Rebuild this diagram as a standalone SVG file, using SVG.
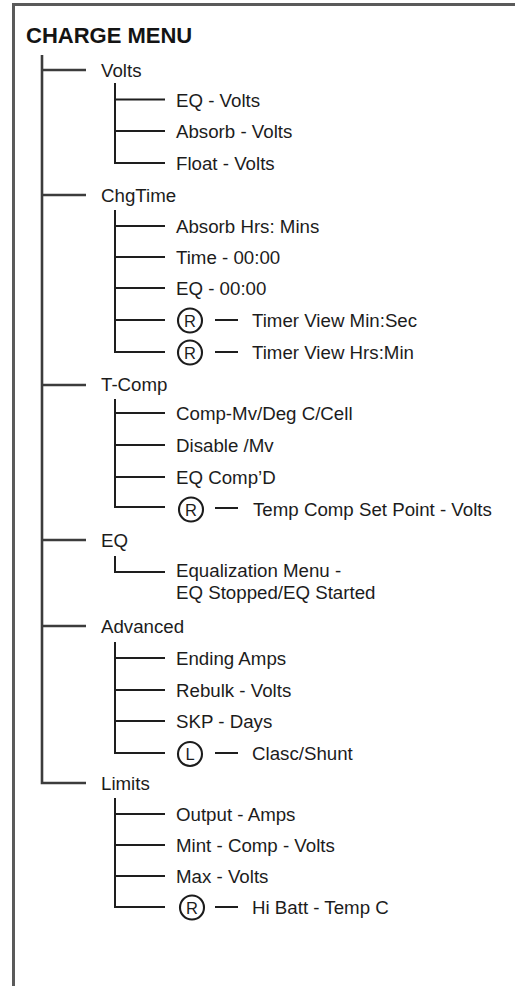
<svg xmlns="http://www.w3.org/2000/svg" width="515" height="986" viewBox="0 0 515 986">
<style>
.frame{stroke:#5a5a5a;stroke-width:3;fill:none}
.trunk{stroke:#3c3c3c;stroke-width:2.6;fill:none}
.ln{stroke:#1e1e1e;stroke-width:2;fill:none}
.lbl{font-family:"Liberation Sans",Arial,sans-serif;font-size:18.7px;fill:#1c1c1c}
.ttl{font-family:"Liberation Sans",Arial,sans-serif;font-size:22px;font-weight:bold;fill:#141414}
.bc{stroke:#1c1c1c;stroke-width:2.1;fill:none}
.bt{font-family:"Liberation Sans",Arial,sans-serif;font-size:16.5px;fill:#1c1c1c;text-anchor:middle}
</style>
<rect width="515" height="986" fill="#ffffff"/>
<path class="frame" d="M13.5 986 V4.5 H515"/>
<g id="title"><text class="ttl" x="26" y="43">CHARGE MENU</text></g>
<g id="connectors">
<path class="trunk" d="M42 55 V783 H86 M42 70 H86 M42 195 H86 M42 385 H86 M42 540 H86 M42 626 H86"/>
<path class="ln" d="M115 83 V163 H165 M115 99.5 H165 M115 131 H165"/>
<path class="ln" d="M115 210 V352 H165 M115 226 H165 M115 257 H165 M115 288 H165 M115 320 H165"/>
<path class="ln" d="M115 399 V507 H165 M115 413 H165 M115 445 H165 M115 477 H165"/>
<path class="ln" d="M115 556 V572 H165"/>
<path class="ln" d="M115 642 V753 H165 M115 658 H165 M115 690 H165 M115 721 H165"/>
<path class="ln" d="M115 798 V907 H165 M115 814 H165 M115 845 H165 M115 876 H165"/>
<path class="ln" d="M215 320 H238 M215 352 H238 M215 508 H238 M215 753 H238 M215 907 H238"/>
</g>
<g id="volts"><text class="lbl" x="101" y="77">Volts</text></g>
<g id="eq-volts"><text class="lbl" x="176" y="106.5">EQ - Volts</text></g>
<g id="absorb-volts"><text class="lbl" x="176" y="138">Absorb - Volts</text></g>
<g id="float-volts"><text class="lbl" x="176" y="170">Float - Volts</text></g>
<g id="chgtime"><text class="lbl" x="101" y="202">ChgTime</text></g>
<g id="absorb-hrs"><text class="lbl" x="176" y="233">Absorb Hrs: Mins</text></g>
<g id="time"><text class="lbl" x="176" y="264">Time - 00:00</text></g>
<g id="eq-time"><text class="lbl" x="176" y="295">EQ - 00:00</text></g>
<g id="timer-min-sec"><circle class="bc" cx="190" cy="320.5" r="12"/><text class="bt" x="190" y="326.5">R</text><text class="lbl" x="252" y="327">Timer View Min:Sec</text></g>
<g id="timer-hrs-min"><circle class="bc" cx="190" cy="352.5" r="12"/><text class="bt" x="190" y="358.5">R</text><text class="lbl" x="252" y="359">Timer View Hrs:Min</text></g>
<g id="t-comp"><text class="lbl" x="101" y="391">T-Comp</text></g>
<g id="comp-mv"><text class="lbl" x="176" y="420">Comp-Mv/Deg C/Cell</text></g>
<g id="disable-mv"><text class="lbl" x="176" y="452">Disable /Mv</text></g>
<g id="eq-compd"><text class="lbl" x="176" y="484">EQ Comp’D</text></g>
<g id="temp-comp-set"><circle class="bc" cx="191" cy="509.5" r="12"/><text class="bt" x="191" y="515.5">R</text><text class="lbl" x="253" y="516">Temp Comp Set Point - Volts</text></g>
<g id="eq"><text class="lbl" x="101" y="547">EQ</text></g>
<g id="equalization"><text class="lbl" x="176" y="577">Equalization Menu -</text><text class="lbl" x="176" y="598.5">EQ Stopped/EQ Started</text></g>
<g id="advanced"><text class="lbl" x="101" y="633">Advanced</text></g>
<g id="ending-amps"><text class="lbl" x="176" y="665">Ending Amps</text></g>
<g id="rebulk"><text class="lbl" x="176" y="697">Rebulk - Volts</text></g>
<g id="skp-days"><text class="lbl" x="176" y="728">SKP - Days</text></g>
<g id="clasc-shunt"><circle class="bc" cx="190" cy="754" r="12"/><text class="bt" x="190" y="760">L</text><text class="lbl" x="252" y="760">Clasc/Shunt</text></g>
<g id="limits"><text class="lbl" x="101" y="790">Limits</text></g>
<g id="output-amps"><text class="lbl" x="176" y="821">Output - Amps</text></g>
<g id="mint-comp"><text class="lbl" x="176" y="852">Mint - Comp - Volts</text></g>
<g id="max-volts"><text class="lbl" x="176" y="883">Max - Volts</text></g>
<g id="hi-batt"><circle class="bc" cx="192" cy="907.5" r="12"/><text class="bt" x="192" y="913.5">R</text><text class="lbl" x="252" y="914">Hi Batt - Temp C</text></g>
</svg>
